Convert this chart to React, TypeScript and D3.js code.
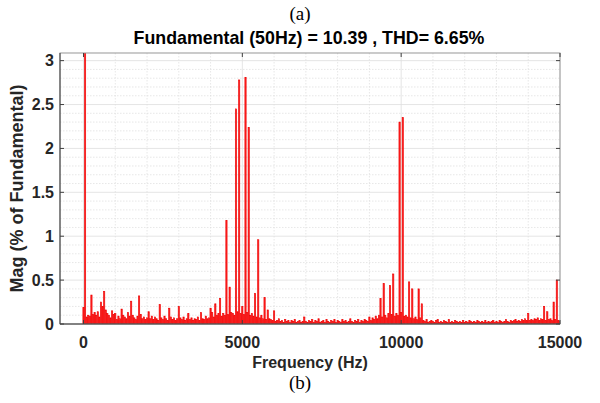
import React from "react";
import * as d3 from "d3";

// Harmonic order h -> frequency h*50 Hz
const fundamentalHz = 50;
const magnitudes: number[] = [
  0.19, 100, 0.08, 0.10, 0.09, 0.33, 0.11, 0.13, 0.10, 0.14,
  0.08, 0.25, 0.20, 0.37, 0.16, 0.12, 0.10, 0.07, 0.15, 0.11,
  0.12, 0.05, 0.09, 0.06, 0.17, 0.10, 0.08, 0.06, 0.13, 0.09,
  0.26, 0.10, 0.07, 0.05, 0.09, 0.32, 0.11, 0.06, 0.08, 0.05,
  0.07, 0.14, 0.06, 0.09, 0.05, 0.08, 0.06, 0.04, 0.22, 0.07,
  0.05, 0.09, 0.06, 0.04, 0.18, 0.08, 0.05, 0.07, 0.04, 0.06,
  0.20, 0.07, 0.05, 0.08, 0.04, 0.06, 0.12, 0.05, 0.07, 0.04,
  0.06, 0.05, 0.08, 0.04, 0.13, 0.06, 0.05, 0.09, 0.06, 0.07,
  0.18, 0.13, 0.08, 0.23, 0.10, 0.12, 0.29, 0.09, 0.12, 0.10,
  1.18, 0.11, 0.42, 0.13, 0.12, 0.10, 2.45, 0.14, 2.78, 0.12,
  0.20, 0.11, 2.81, 0.13, 2.24, 0.10, 0.12, 0.09, 0.35, 0.08,
  0.96, 0.07, 0.10, 0.06, 0.30, 0.05, 0.16, 0.06, 0.05, 0.04,
  0.15, 0.03, 0.04, 0.06, 0.03, 0.04, 0.02, 0.05, 0.03, 0.04,
  0.02, 0.04, 0.03, 0.05, 0.02, 0.03, 0.04, 0.02, 0.03, 0.08,
  0.03, 0.02, 0.04, 0.03, 0.05, 0.02, 0.04, 0.03, 0.06, 0.02,
  0.03, 0.04, 0.02, 0.05, 0.03, 0.02, 0.04, 0.03, 0.05, 0.02,
  0.04, 0.03, 0.02, 0.05, 0.03, 0.04, 0.02, 0.03, 0.06, 0.03,
  0.02, 0.04, 0.03, 0.05, 0.02, 0.04, 0.03, 0.05, 0.04, 0.03,
  0.08, 0.04, 0.07, 0.05, 0.09, 0.06, 0.10, 0.29, 0.08, 0.46,
  0.10, 0.07, 0.12, 0.44, 0.11, 0.57, 0.09, 0.12, 0.10, 2.30,
  0.13, 2.35, 0.09, 0.10, 0.08, 0.48, 0.07, 0.40, 0.06, 0.08,
  0.05, 0.40, 0.07, 0.23, 0.04, 0.03, 0.05, 0.02, 0.03, 0.04,
  0.03, 0.02, 0.04, 0.05, 0.02, 0.03, 0.02, 0.04, 0.03, 0.02,
  0.05, 0.02, 0.03, 0.02, 0.04, 0.03, 0.02, 0.03, 0.02, 0.04,
  0.02, 0.03, 0.02, 0.04, 0.03, 0.02, 0.03, 0.02, 0.04, 0.03,
  0.02, 0.03, 0.02, 0.04, 0.02, 0.03, 0.02, 0.03, 0.04, 0.02,
  0.03, 0.02, 0.04, 0.03, 0.02, 0.03, 0.05, 0.03, 0.02, 0.04,
  0.03, 0.04, 0.05, 0.03, 0.04, 0.03, 0.05, 0.04, 0.06, 0.04,
  0.12, 0.04, 0.05, 0.04, 0.06, 0.05, 0.07, 0.04, 0.06, 0.05,
  0.20, 0.04, 0.14, 0.05, 0.06, 0.04, 0.25, 0.05, 0.50, 0.04,
  0.03,
];

const xTicks = [0, 5000, 10000, 15000];
const yTicks = [0, 0.5, 1, 1.5, 2, 2.5, 3];
const xMinorTicks = d3.range(1000, 15000, 1000).filter((v) => v % 5000 !== 0);
const yMinorTicks = d3.range(0.1, 3.1, 0.1).filter((v) => Math.abs(v * 2 - Math.round(v * 2)) > 1e-6);

const captionTop = "(a)";
const captionBottom = "(b)";
const titleText = "Fundamental (50Hz) = 10.39 , THD= 6.65%";
const xLabel = "Frequency (Hz)";
const yLabel = "Mag (% of Fundamental)";

export default function App() {
  const W = 600, H = 403;
  const left = 60, right = 560, top = 53, bottom = 324;
  const x = d3.scaleLinear().domain([-740, 15000]).range([left, right]);
  const y = d3.scaleLinear().domain([0, 3.087]).range([bottom, top]);
  const step = x(fundamentalHz) - x(0);
  const bw = step * 0.8;
  const sans = "'Liberation Sans', Arial, Helvetica, sans-serif";
  const serif = "'Liberation Serif', 'Times New Roman', serif";
  const textColor = "#262626";

  return (
    <svg width={W} height={H} style={{ position: "absolute", left: 0, top: 0, background: "#fff" }}>
      <defs>
        <clipPath id="plotclip">
          <rect x={left} y={top} width={right - left} height={bottom - top} />
        </clipPath>
      </defs>
      <rect x={0} y={0} width={W} height={H} fill="#fff" />
      {/* minor grid */}
      {xMinorTicks.map((v) => (
        <line key={"xm" + v} x1={x(v)} x2={x(v)} y1={top} y2={bottom} stroke="#dcdcdc" strokeWidth={0.7} strokeDasharray="1.5,1.5" />
      ))}
      {yMinorTicks.map((v, i) => (
        <line key={"ym" + i} x1={left} x2={right} y1={y(v)} y2={y(v)} stroke="#dcdcdc" strokeWidth={0.7} strokeDasharray="1.5,1.5" />
      ))}
      {/* major grid */}
      {xTicks.map((v) => (
        <line key={"xg" + v} x1={x(v)} x2={x(v)} y1={top} y2={bottom} stroke="#dedede" strokeWidth={0.8} />
      ))}
      {yTicks.map((v) => (
        <line key={"yg" + v} x1={left} x2={right} y1={y(v)} y2={y(v)} stroke="#dedede" strokeWidth={0.8} />
      ))}
      {/* bars */}
      <g clipPath="url(#plotclip)">
        {magnitudes.map((m, h) => {
          const f = h * fundamentalHz;
          const yt = Math.max(y(m), top - 5);
          return (
            <rect
              key={h}
              x={x(f) - bw / 2}
              y={yt}
              width={bw}
              height={bottom - yt}
              fill="#ff2020"
              stroke="#ee0000"
              strokeWidth={0.6}
            />
          );
        })}
      </g>
      {/* axes box */}
      <rect x={left} y={top} width={right - left} height={bottom - top} fill="none" stroke="#8c8c8c" strokeWidth={0.9} />
      <line x1={left} x2={right} y1={bottom} y2={bottom} stroke="#404040" strokeWidth={1} />
      <line x1={left} x2={left} y1={top} y2={bottom} stroke="#404040" strokeWidth={1} />
      {/* ticks */}
      {xTicks.map((v) => (
        <g key={"xt" + v}>
          <line x1={x(v)} x2={x(v)} y1={bottom} y2={bottom - 4} stroke="#404040" />
          <line x1={x(v)} x2={x(v)} y1={top} y2={top + 4} stroke="#404040" />
          <text x={x(v)} y={348} textAnchor="middle" fontFamily={sans} fontWeight="bold" fontSize={16} fill={textColor}>
            {v}
          </text>
        </g>
      ))}
      {yTicks.map((v) => (
        <g key={"yt" + v}>
          <line x1={left} x2={left + 4} y1={y(v)} y2={y(v)} stroke="#404040" />
          <line x1={right} x2={right - 4} y1={y(v)} y2={y(v)} stroke="#404040" />
          <text x={54} y={y(v) + 5.5} textAnchor="end" fontFamily={sans} fontWeight="bold" fontSize={16} fill={textColor}>
            {v}
          </text>
        </g>
      ))}
      {/* labels */}
      <text x={300} y={20} textAnchor="middle" fontFamily={serif} fontSize={19} fill="#000">
        {captionTop}
      </text>
      <text x={309} y={44} textAnchor="middle" fontFamily={sans} fontWeight="bold" fontSize={17.8} fill="#000">
        {titleText}
      </text>
      <text x={310} y={368} textAnchor="middle" fontFamily={sans} fontWeight="bold" fontSize={16} fill={textColor}>
        {xLabel}
      </text>
      <text transform={`translate(23,${(top + bottom) / 2}) rotate(-90)`} textAnchor="middle" fontFamily={sans} fontWeight="bold" fontSize={18} fill={textColor}>
        {yLabel}
      </text>
      <text x={300} y={389} textAnchor="middle" fontFamily={serif} fontSize={19} fill="#000">
        {captionBottom}
      </text>
    </svg>
  );
}
